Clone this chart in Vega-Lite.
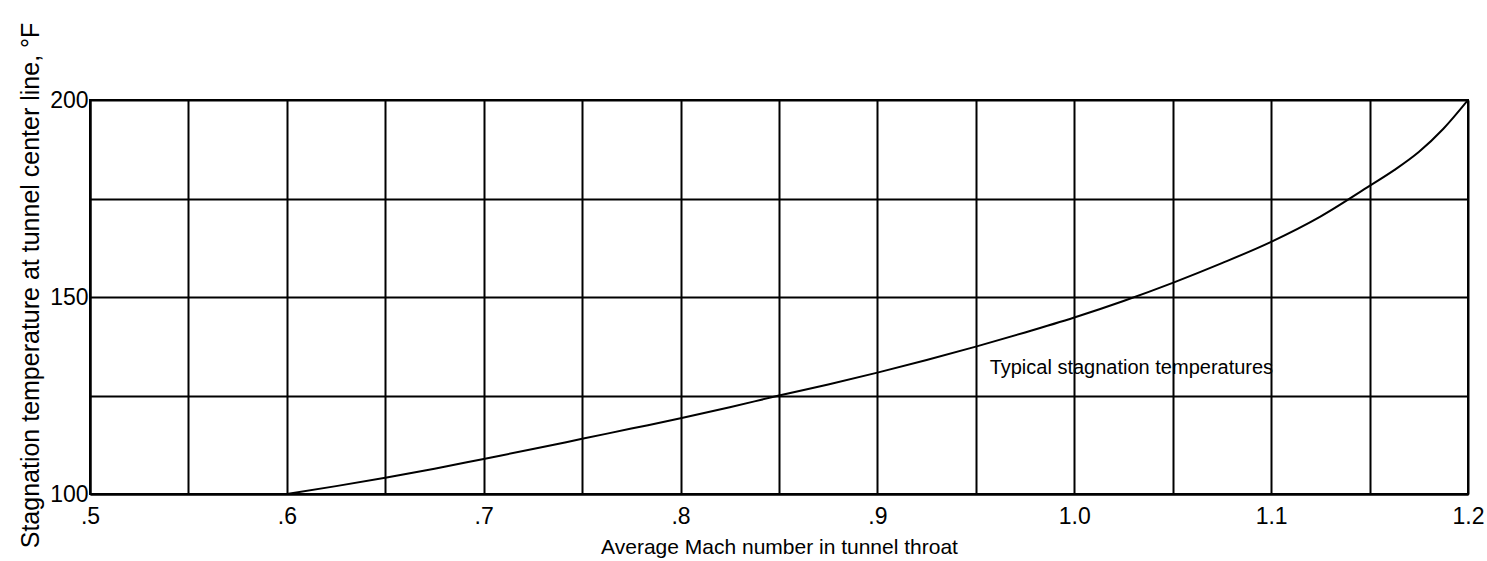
{
  "$schema": "https://vega.github.io/schema/vega-lite/v6.json",
  "width": 1378,
  "height": 394,
  "autosize": "none",
  "padding": {"left": 90, "top": 100, "right": 19, "bottom": 67},
  "background": "white",
  "config": {
    "view": {"stroke": "black", "strokeWidth": 2},
    "font": "Liberation Sans"
  },
  "datasets": {
    "curve": [
      {"mach": 0.6, "temp": 100},
      {"mach": 0.625, "temp": 102},
      {"mach": 0.65, "temp": 104.1},
      {"mach": 0.675, "temp": 106.4},
      {"mach": 0.7, "temp": 108.9},
      {"mach": 0.725, "temp": 111.4},
      {"mach": 0.75, "temp": 114.0},
      {"mach": 0.775, "temp": 116.6},
      {"mach": 0.8, "temp": 119.2},
      {"mach": 0.825, "temp": 122.0},
      {"mach": 0.85, "temp": 125.0},
      {"mach": 0.875, "temp": 127.8},
      {"mach": 0.9, "temp": 130.8},
      {"mach": 0.925, "temp": 134.0},
      {"mach": 0.95, "temp": 137.4},
      {"mach": 0.975, "temp": 141.0},
      {"mach": 1.0, "temp": 144.8},
      {"mach": 1.025, "temp": 149.0},
      {"mach": 1.05, "temp": 153.6},
      {"mach": 1.075, "temp": 158.6},
      {"mach": 1.1, "temp": 164.0},
      {"mach": 1.125, "temp": 170.4},
      {"mach": 1.15, "temp": 178.2},
      {"mach": 1.1625, "temp": 182.2},
      {"mach": 1.175, "temp": 186.8},
      {"mach": 1.1875, "temp": 192.7},
      {"mach": 1.2, "temp": 200}
    ],
    "note": [
      {"mach": 0.957, "temp": 132, "label": "Typical stagnation temperatures"}
    ]
  },
  "layer": [
    {
      "data": {"name": "curve"},
      "mark": {"type": "line", "color": "black", "strokeWidth": 2, "interpolate": "monotone", "clip": true},
      "encoding": {
        "x": {
          "field": "mach",
          "type": "quantitative",
          "scale": {"domain": [0.5, 1.2], "nice": false, "zero": false},
          "axis": {
            "values": [0.5, 0.55, 0.6, 0.65, 0.7, 0.75, 0.8, 0.85, 0.9, 0.95, 1.0, 1.05, 1.1, 1.15, 1.2],
            "labelExpr": "(round(datum.value*100) % 10 == 0) ? (datum.value < 0.99 ? replace(format(datum.value, '.1f'), '0.', '.') : format(datum.value, '.1f')) : ''",
            "grid": true,
            "gridColor": "black",
            "gridWidth": 2,
            "gridOpacity": 1,
            "domain": true,
            "domainColor": "black",
            "domainWidth": 2,
            "ticks": false,
            "labelPadding": 11,
            "labelFontSize": 23,
            "labelColor": "black",
            "labelFlush": false,
            "labelOverlap": false,
            "title": "Average Mach number in tunnel throat",
            "titleFontSize": 21,
            "titleFontWeight": "normal",
            "titleColor": "black",
            "titlePadding": 8
          }
        },
        "y": {
          "field": "temp",
          "type": "quantitative",
          "scale": {"domain": [100, 200], "nice": false, "zero": false},
          "axis": {
            "values": [100, 125, 150, 175, 200],
            "labelExpr": "(datum.value % 50 == 0) ? format(datum.value, 'd') : ''",
            "grid": true,
            "gridColor": "black",
            "gridWidth": 2,
            "gridOpacity": 1,
            "domain": true,
            "domainColor": "black",
            "domainWidth": 2,
            "ticks": false,
            "labelPadding": 2,
            "labelFontSize": 23,
            "labelColor": "black",
            "labelOverlap": false,
            "labelFlush": false,
            "title": "Stagnation temperature at tunnel center line, °F",
            "titleFontSize": 25,
            "titleFontWeight": "normal",
            "titleColor": "black",
            "titlePadding": 6,
            "titleY": 185
          }
        }
      }
    },
    {
      "data": {"name": "note"},
      "mark": {"type": "text", "align": "left", "baseline": "middle", "fontSize": 20, "color": "black"},
      "encoding": {
        "x": {"field": "mach", "type": "quantitative"},
        "y": {"field": "temp", "type": "quantitative"},
        "text": {"field": "label"}
      }
    }
  ]
}
